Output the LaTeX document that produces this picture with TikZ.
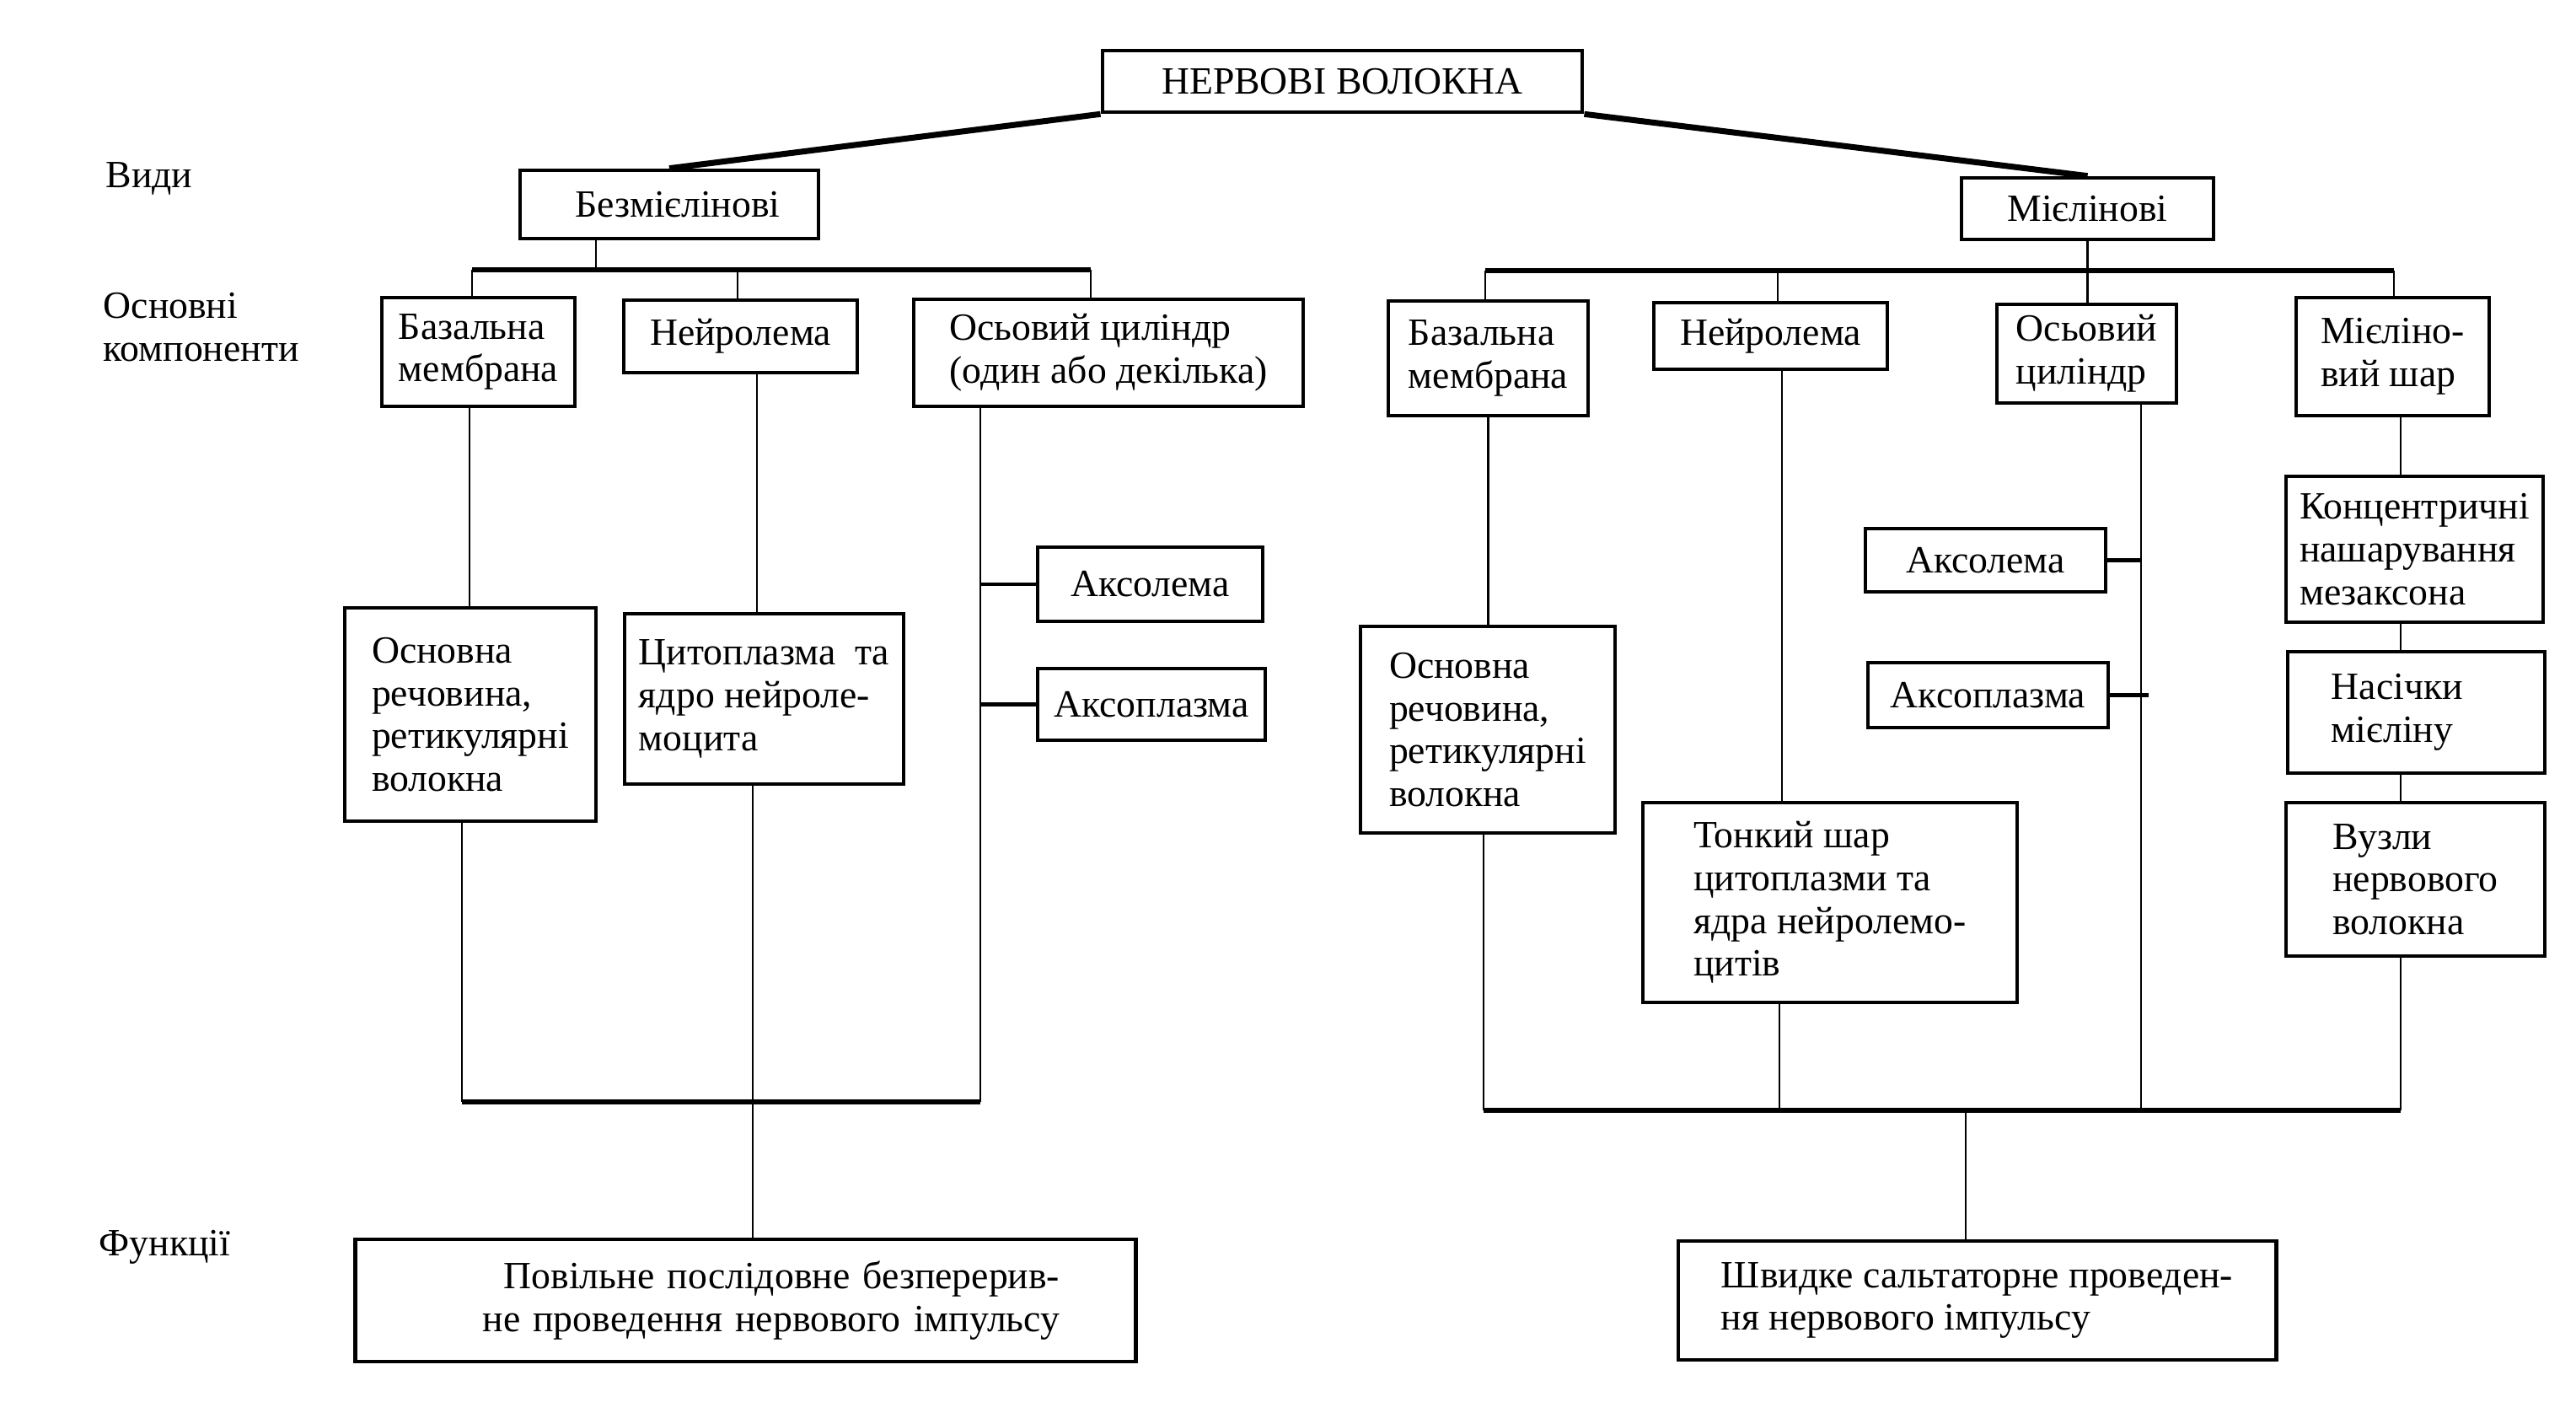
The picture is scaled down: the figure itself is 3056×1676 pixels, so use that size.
\documentclass[tikz,border=0pt]{standalone}
\usepackage{fontspec}
\setmainfont{Liberation Serif}
\newcommand{\fsz}{\fontsize{13}{14.4}\selectfont}
\begin{document}
\begin{tikzpicture}[x=0.01cm,y=-0.01cm,
  box/.style={draw, line width=1.3pt, inner sep=0pt, align=center, font=\fsz},
  lbl/.style={inner sep=0pt, font=\fsz},
  ln/.style={line width=0.8pt},
  bus/.style={line width=1.5pt},
  diag/.style={line width=2pt},
  stub/.style={line width=1.4pt}]
\fill[white] (0,0) rectangle (3056,1676);
\useasboundingbox (0,0) rectangle (3056,1676);

% labels
\node[lbl, anchor=west] (vydy) at (125,212) {Види};
\node[lbl, anchor=west, align=left] (osnk) at (122,388) {Основні\\компоненти};
\node[lbl, anchor=west] (fun) at (117,1479) {Функції};

% boxes
\node[box, minimum width=5.69cm, minimum height=0.73cm] (top) at (1592.5,96.5) {НЕРВОВІ ВОЛОКНА};
\node[box, minimum width=3.54cm, minimum height=0.81cm] (bez) at (794,242.5) {\hspace*{0.2cm}Безмієлінові};
\node[box, minimum width=2.99cm, minimum height=0.73cm] (miel) at (2476.5,247.5) {Мієлінові};

\node[box, align=left, minimum width=2.29cm, minimum height=1.29cm] (lbaz) at (567.5,417.5) {Базальна\\мембрана};
\node[box, minimum width=2.77cm, minimum height=0.86cm] (lneu) at (878.5,399) {Нейролема};
\node[box, align=left, minimum width=4.62cm, minimum height=1.27cm] (los) at (1315,418.5) {Осьовий циліндр\\(один або декілька)};

\node[box, align=left, minimum width=2.37cm, minimum height=1.36cm] (rbaz) at (1765.5,425) {Базальна\\мембрана};
\node[box, minimum width=2.77cm, minimum height=0.79cm] (rneu) at (2100.5,398.5) {Нейролема};
\node[box, align=left, minimum width=2.13cm, minimum height=1.17cm] (ros) at (2475.5,419.5) {Осьовий\\циліндр};
\node[box, align=left, minimum width=2.29cm, minimum height=1.40cm] (rmye) at (2838.5,423) {Мієліно-\\вий шар};

\node[box, align=left, minimum width=2.98cm, minimum height=2.53cm] (losn) at (558,847.5) {Основна\\речовина,\\ретикулярні\\волокна};
\node[box, align=left, minimum width=3.31cm, minimum height=2.02cm] (lcyt) at (906.5,829) {Цитоплазма\ \ та\\ядро нейроле-\\моцита};
\node[box, minimum width=2.67cm, minimum height=0.88cm] (laxl) at (1364.5,693) {Аксолема};
\node[box, minimum width=2.70cm, minimum height=0.85cm] (laxp) at (1366,835.5) {Аксоплазма};

\node[box, align=left, minimum width=3.02cm, minimum height=2.45cm] (rosn) at (1765,865.5) {Основна\\речовина,\\ретикулярні\\волокна};
\node[box, align=left, minimum width=4.44cm, minimum height=2.37cm] (rton) at (2171,1070.5) {Тонкий шар\\цитоплазми та\\ядра нейролемо-\\цитів};
\node[box, minimum width=2.85cm, minimum height=0.75cm] (raxl) at (2355.5,664.5) {Аксолема};
\node[box, minimum width=2.85cm, minimum height=0.77cm] (raxp) at (2358.5,824.5) {Аксоплазма};
\node[box, align=left, minimum width=3.05cm, minimum height=1.73cm] (rcon) at (2864.5,651.5) {Концентричні\\нашарування\\мезаксона};
\node[box, align=left, text width=2.01cm, inner xsep=0.52cm, minimum height=1.44cm] (rnas) at (2866.5,845) {Насічки\\мієліну};
\node[box, align=left, minimum width=3.07cm, minimum height=1.82cm] (rvuz) at (2865.5,1043) {Вузли\\нервового\\волокна};

\node[box, align=right, text width=7.45cm, inner xsep=0.9cm, minimum height=1.45cm] (fl) at (884.5,1542.5) {Повільне послідовне безперерив-\\не проведення нервового імпульсу};
\node[box, align=left, minimum width=7.09cm, minimum height=1.41cm] (fr) at (2345.5,1542.5) {Швидке сальтаторне проведен-\\ня нервового імпульсу};

% top connectors
\draw[diag] (top.south west) -- (bez.north);
\draw[diag] (top.south east) -- (miel.north);

% left tree
\coordinate (lb0) at (707,320);
\coordinate (lb1) at (560,320);
\coordinate (lb2) at (875,320);
\coordinate (lb3) at (1294,320);
\draw[ln] (bez.south -| lb0) -- (lb0);
\draw[bus] (lb1) -- (lb3);
\draw[ln] (lb1) -- (lb1 |- lbaz.north);
\draw[ln] (lb2) -- (lb2 |- lneu.north);
\draw[ln] (lb3) -- (lb3 |- los.north);
\coordinate (la) at (557,600);
\draw[ln] (lbaz.south -| la) -- (losn.north -| la);
\coordinate (lc) at (898,600);
\draw[ln] (lneu.south -| lc) -- (lcyt.north -| lc);
\coordinate (lv) at (1163,1307);
\draw[ln] (los.south -| lv) -- (lv);
\draw[stub] (laxl.west) -- (laxl.west -| lv);
\draw[stub] (laxp.west) -- (laxp.west -| lv);
\coordinate (lw) at (548,1307);
\draw[ln] (losn.south -| lw) -- (lw);
\draw[bus] (lw) -- (lv);
\coordinate (lf) at (893,1400);
\draw[ln] (lcyt.south -| lf) -- (fl.north -| lf);

% right tree
\draw[ln] (miel.south) -- (miel.south |- ros.north);
\coordinate (rb1) at (1762,321);
\coordinate (rb2) at (2109,321);
\coordinate (rb4) at (2840,321);
\draw[bus] (rb1) -- (rb4);
\draw[ln] (rb1) -- (rb1 |- rbaz.north);
\draw[ln] (rb2) -- (rb2 |- rneu.north);
\draw[ln] (rb4) -- (rb4 |- rmye.north);
\draw[ln] (rbaz.south) -- (rbaz.south |- rosn.north);
\coordinate (rc) at (2114,600);
\draw[ln] (rneu.south -| rc) -- (rton.north -| rc);
\coordinate (rv) at (2540,1317);
\draw[ln] (ros.south -| rv) -- (rv);
\draw[stub] (raxl.east) -- (raxl.east -| rv);
\coordinate (rxp) at (2549,824.5);
\draw[stub] (raxp.east) -- (raxp.east -| rxp);
\coordinate (rm) at (2848,600);
\draw[ln] (rmye.south -| rm) -- (rcon.north -| rm);
\draw[ln] (rcon.south -| rm) -- (rnas.north -| rm);
\draw[ln] (rnas.south -| rm) -- (rvuz.north -| rm);
\coordinate (rw) at (1760,1317);
\coordinate (rz) at (2848,1317);
\coordinate (rt) at (2111,1317);
\draw[ln] (rosn.south -| rw) -- (rw);
\draw[ln] (rton.south -| rt) -- (rt);
\draw[ln] (rvuz.south -| rz) -- (rz);
\draw[bus] (rw) -- (rz);
\coordinate (rf) at (2332,1317);
\draw[ln] (rf) -- (fr.north -| rf);
\end{tikzpicture}
\end{document}
